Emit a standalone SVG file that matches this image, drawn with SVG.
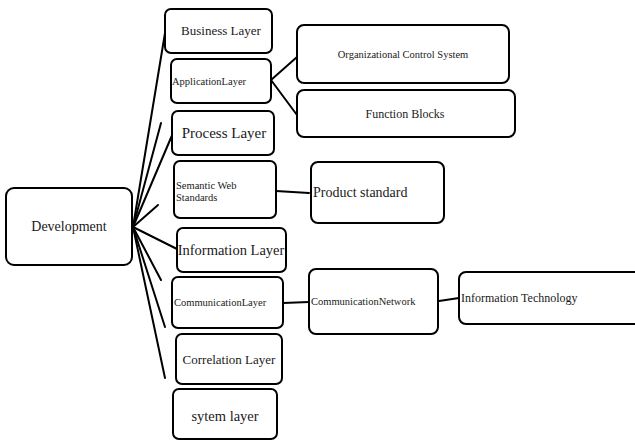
<svg xmlns="http://www.w3.org/2000/svg" width="635" height="441" viewBox="0 0 635 441">
  <style>
    .box { fill: #ffffff; stroke: #000000; stroke-width: 2; }
    .link { stroke: #000000; stroke-width: 2; fill: none; stroke-linecap: round; }
    .label { font-family: 'Liberation Serif', 'Times New Roman', 'DejaVu Serif', serif; fill: #1a1a1a; }
    .c { text-anchor: middle; }
  </style>
  <rect width="635" height="441" fill="#ffffff"/>

  <!-- connectors -->
  <g id="connectors">
    <!-- fan out of Development -->
    <line class="link" x1="133" y1="227" x2="165" y2="33"/>
    <line class="link" x1="133" y1="227" x2="161" y2="123"/>
    <line class="link" x1="133" y1="227" x2="173" y2="133"/>
    <line class="link" x1="133" y1="227" x2="158" y2="205"/>
    <line class="link" x1="133" y1="227" x2="177" y2="249"/>
    <line class="link" x1="133" y1="227" x2="161" y2="280"/>
    <line class="link" x1="133" y1="227" x2="165" y2="327"/>
    <line class="link" x1="133" y1="227" x2="165" y2="378"/>
    <!-- secondary links -->
    <line class="link" x1="271" y1="80" x2="297" y2="57"/>
    <line class="link" x1="271" y1="80" x2="297" y2="115"/>
    <line class="link" x1="276" y1="191" x2="309" y2="193"/>
    <line class="link" x1="283" y1="303" x2="309" y2="302"/>
    <line class="link" x1="439" y1="301" x2="459" y2="298"/>
  </g>

  <g id="development">
    <rect class="box" x="6" y="188" width="126" height="77" rx="8"/>
    <text class="label c" x="69" y="231" font-size="14">Development</text>
  </g>

  <g id="business-layer">
    <rect class="box" x="165" y="9" width="107" height="44" rx="6"/>
    <text class="label c" x="221" y="35" font-size="13">Business Layer</text>
  </g>

  <g id="application-layer">
    <rect class="box" x="171" y="59" width="100" height="44" rx="6"/>
    <text class="label" x="172" y="85" font-size="10.5">ApplicationLayer</text>
  </g>

  <g id="process-layer">
    <rect class="box" x="172" y="111" width="102" height="44" rx="6"/>
    <text class="label c" x="224" y="138" font-size="15">Process Layer</text>
  </g>

  <g id="semantic-web-standards">
    <rect class="box" x="174" y="161" width="102" height="57" rx="6"/>
    <text class="label" x="176" y="189" font-size="10.5">Semantic Web</text>
    <text class="label" x="176" y="201" font-size="10.5">Standards</text>
  </g>

  <g id="information-layer">
    <rect class="box" x="177" y="228" width="109" height="44" rx="6"/>
    <text class="label c" x="231" y="255" font-size="14.5">Information Layer</text>
  </g>

  <g id="communication-layer">
    <rect class="box" x="172" y="277" width="111" height="51" rx="6"/>
    <text class="label" x="174" y="306" font-size="10.5">CommunicationLayer</text>
  </g>

  <g id="correlation-layer">
    <rect class="box" x="176" y="334" width="106" height="50" rx="6"/>
    <text class="label c" x="229" y="364" font-size="13">Correlation Layer</text>
  </g>

  <g id="system-layer">
    <rect class="box" x="173" y="389" width="104" height="50" rx="6"/>
    <text class="label c" x="225" y="421" font-size="14.5">sytem layer</text>
  </g>

  <g id="organizational-control-system">
    <rect class="box" x="297" y="25" width="212" height="58" rx="7"/>
    <text class="label c" x="403" y="58" font-size="10.5">Organizational Control System</text>
  </g>

  <g id="function-blocks">
    <rect class="box" x="297" y="90" width="218" height="47" rx="7"/>
    <text class="label c" x="405" y="118" font-size="12">Function Blocks</text>
  </g>

  <g id="product-standard">
    <rect class="box" x="311" y="162" width="133" height="61" rx="7"/>
    <text class="label" x="313" y="197" font-size="14">Product standard</text>
  </g>

  <g id="communication-network">
    <rect class="box" x="309" y="269" width="129" height="65" rx="7"/>
    <text class="label" x="311" y="305" font-size="10.5">CommunicationNetwork</text>
  </g>

  <g id="information-technology">
    <rect class="box" x="459" y="272" width="190" height="52" rx="7"/>
    <text class="label" x="461" y="302" font-size="12">Information  Technology</text>
  </g>
</svg>
